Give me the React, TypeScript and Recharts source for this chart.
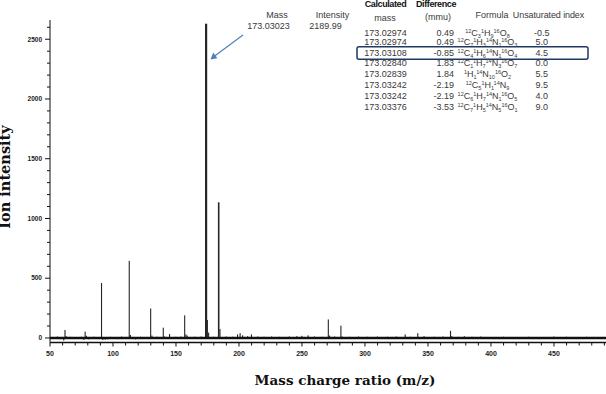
import React from "react";
import { BarChart, Bar, XAxis, YAxis, ReferenceLine } from "recharts";

// spectrum sticks: m/z and ion intensity
const peakMz = [
  56, 58, 61, 62, 63, 66, 70, 75, 77, 78, 79, 81, 85, 88, 91, 92, 94, 96, 98,
  104, 107, 110, 113, 114, 118, 122, 126, 130, 131, 135, 140, 141, 145, 150,
  154, 157, 158, 159, 165, 170, 174, 175, 176, 180, 184, 185, 190, 195, 199,
  201, 203, 207, 210, 215, 220, 226, 232, 240, 246, 250, 255, 260, 266, 271,
  272, 276, 281, 282, 288, 295, 302, 310, 318, 325, 332, 336, 342, 347, 355,
  362, 368, 369, 374, 379, 385, 392, 400, 410, 420, 430, 440, 450, 460, 468,
  476, 485,
];
const peakIntensity = [
  12, -10, -22, 67, 15, 10, -8, 10, -16, 53, 18, -12, 10, -10, 460, -18, -15,
  -12, 10, -10, 12, -8, 645, 25, -12, 10, 8, 247, 20, 10, 86, 12, 33, 10, 12,
  189, 30, 20, 10, 12, 2630, 150, 45, 10, 1135, 75, 12, 10, 30, 40, 22, 15, 30,
  12, 10, 12, 10, 12, 15, 18, 22, 12, 10, 155, 20, 12, 103, 12, 10, 12, 10, 12,
  10, 12, 30, 10, 40, 15, 10, 12, 60, 15, 10, 14, 10, 12, 8, 10, 8, 10, 8, 12,
  10, 8, 10, 8,
];

const yTicks = [
  0, 100, 200, 300, 400, 500, 600, 700, 800, 900, 1000, 1100, 1200, 1300, 1400,
  1500, 1600, 1700, 1800, 1900, 2000, 2100, 2200, 2300, 2400, 2500, 2600,
];
const xTicks = [
  50, 60, 70, 80, 90, 100, 110, 120, 130, 140, 150, 160, 170, 180, 190, 200,
  210, 220, 230, 240, 250, 260, 270, 280, 290, 300, 310, 320, 330, 340, 350,
  360, 370, 380, 390, 400, 410, 420, 430, 440, 450, 460, 470, 480, 490,
];

// candidate formula table
const calcMass = [
  "173.02974", "173.02974", "173.03108", "173.02840",
  "173.02839", "173.03242", "173.03242", "173.03376",
];
const diffMmu = ["0.49", "0.49", "-0.85", "1.83", "1.84", "-2.19", "-2.19", "-3.53"];
const formulas: [string, string, string][][] = [
  [["12", "C", "3"], ["1", "H", "9"], ["16", "O", "8"]],
  [["12", "C", "7"], ["1", "H", "3"], ["14", "N", "1"], ["16", "O", "3"]],
  [["12", "C", "4"], ["1", "H", "6"], ["14", "N", "1"], ["16", "O", "4"]],
  [["12", "C", "1"], ["1", "H", "7"], ["14", "N", "3"], ["16", "O", "7"]],
  [["1", "H", "1"], ["14", "N", "10"], ["16", "O", "2"]],
  [["12", "C", "5"], ["1", "H", "1"], ["14", "N", "9"]],
  [["12", "C", "6"], ["1", "H", "7"], ["14", "N", "1"], ["16", "O", "5"]],
  [["12", "C", "7"], ["1", "H", "5"], ["14", "N", "5"], ["16", "O", "1"]],
];
const unsatIndex = ["-0.5", "5.0", "4.5", "0.0", "5.5", "9.5", "4.0", "9.0"];
const rowY = [32.7, 41.7, 52.7, 63.3, 74, 85, 96, 106.7];

const data = peakMz.map((mz, i) => ({ mz, intensity: peakIntensity[i] }));

const tickFont = "'Liberation Sans', Arial, sans-serif";
const tableFont = "'Liberation Sans Narrow', 'Liberation Sans', Arial, sans-serif";

const YTick = (props: any) => {
  const { x, y, payload } = props;
  const major = payload.value % 500 === 0;
  return (
    <g>
      <line x1={x} x2={x - (major ? 5 : 3)} y1={y} y2={y} stroke="#111" strokeWidth={1} />
      {major && (
        <text x={x - 8} y={y} dy="0.35em" textAnchor="end" fontSize={6.5} fontWeight="bold" fontFamily={tickFont} fill="#222">
          {payload.value}
        </text>
      )}
    </g>
  );
};

const XTick = (props: any) => {
  const { x, y, payload } = props;
  const major = payload.value % 50 === 0;
  return (
    <g>
      <line x1={x} x2={x} y1={y} y2={y + (major ? 4 : 3)} stroke="#111" strokeWidth={1} />
      {major && (
        <text x={x} y={y + 13} textAnchor="middle" fontSize={7} fontWeight="bold" fontFamily={tickFont} fill="#222">
          {payload.value}
        </text>
      )}
    </g>
  );
};

const Stick = (props: any) => {
  const { x, y, width, height, value } = props;
  const v = Array.isArray(value) ? value[1] - value[0] : value;
  const w = Math.abs(v) > 2000 ? 2.2 : Math.abs(v) > 1000 ? 1.6 : 1.1;
  const top = height < 0 ? y + height : y;
  const h = Math.abs(height);
  return <rect x={x + width / 2 - w / 2} y={top} width={w} height={h} fill="#262626" />;
};

const cell = (key: string, x: number, y: number, text: React.ReactNode, extra: React.CSSProperties = {}) => (
  <div
    key={key}
    style={{
      position: "absolute",
      left: x,
      top: y,
      transform: "translate(-50%, -50%)",
      whiteSpace: "nowrap",
      fontFamily: tableFont,
      fontSize: 9,
      color: "#3a3a3a",
      lineHeight: "10px",
      ...extra,
    }}
  >
    {text}
  </div>
);

const Formula = ({ parts }: { parts: [string, string, string][] }) => (
  <span>
    {parts.map(([iso, el, n], i) => (
      <span key={i}>
        <span style={{ fontSize: 5.5, position: "relative", top: -3 }}>{iso}</span>
        {el}
        <span style={{ fontSize: 5.5, position: "relative", top: 2 }}>{n}</span>
      </span>
    ))}
  </span>
);

export default function App() {
  return (
    <div style={{ position: "absolute", left: 0, top: 0, width: 606, height: 394, background: "#fff", overflow: "hidden" }}>
      <BarChart width={606} height={394} data={data} margin={{ top: 20, right: 0, bottom: 0, left: 0 }}>
        <XAxis
          type="number"
          dataKey="mz"
          domain={[50, 491.3]}
          allowDataOverflow
          ticks={xTicks}
          interval={0}
          height={51.5}
          tickSize={0}
          tickMargin={0}
          tickLine={false}
          tick={<XTick />}
          axisLine={{ stroke: "#111", strokeWidth: 1.5 }}
        />
        <YAxis
          type="number"
          domain={[-38, 2661]}
          allowDataOverflow
          ticks={yTicks}
          interval={0}
          width={50}
          tickSize={0}
          tickMargin={0}
          tickLine={false}
          tick={<YTick />}
          axisLine={{ stroke: "#111", strokeWidth: 1 }}
        />
        <ReferenceLine y={0} stroke="#111" strokeWidth={2.5} />
        <Bar dataKey="intensity" barSize={1} shape={<Stick />} isAnimationActive={false} />
      </BarChart>

      {/* axis titles */}
      <div
        style={{
          position: "absolute",
          left: 4,
          top: 177,
          transform: "translate(-50%, -50%) rotate(-90deg)",
          whiteSpace: "nowrap",
          fontFamily: "'DejaVu Serif', serif",
          fontWeight: "bold",
          fontSize: 14.5,
          color: "#111",
        }}
      >
        Ion intensity
      </div>
      <div
        style={{
          position: "absolute",
          left: 345,
          top: 380,
          transform: "translate(-50%, -50%)",
          whiteSpace: "nowrap",
          fontFamily: "'DejaVu Serif', serif",
          fontWeight: "bold",
          fontSize: 13.5,
          color: "#111",
        }}
      >
        Mass charge ratio (m/z)
      </div>

      {/* arrow to the main peak and highlight box */}
      <svg width={606} height={394} style={{ position: "absolute", left: 0, top: 0, pointerEvents: "none" }}>
        <line x1={243} y1={35} x2={214} y2={56.5} stroke="#4f81bd" strokeWidth={1.2} />
        <polygon points="210.5,59.5 213.2,52.6 217.4,58.2" fill="#4f81bd" />
        <rect x={357} y={46.7} width={231} height={12.6} rx={2} fill="none" stroke="#1f3864" strokeWidth={1.5} />
      </svg>

      {/* table */}
      {cell("h1", 385.5, 4.3, "Calculated", { fontWeight: "bold", color: "#111", letterSpacing: -0.4 })}
      {cell("h2", 436, 4.3, "Difference", { fontWeight: "bold", color: "#111", letterSpacing: -0.4 })}
      {cell("h3", 277, 15, "Mass")}
      {cell("h4", 332.5, 15, "Intensity")}
      {cell("h5", 385, 18, "mass")}
      {cell("h6", 438, 17, "(mmu)")}
      {cell("h7", 492, 15, "Formula")}
      {cell("h8", 548.5, 15, "Unsaturated index", { letterSpacing: -0.1 })}
      {cell("v1", 268.5, 26, "173.03023")}
      {cell("v2", 325.5, 26, "2189.99")}
      {calcMass.map((m, i) => cell("m" + i, 385.5, rowY[i], m))}
      {diffMmu.map((d, i) => (
        <div
          key={"d" + i}
          style={{
            position: "absolute",
            right: 606 - 454,
            top: rowY[i],
            transform: "translateY(-50%)",
            fontFamily: tableFont,
            fontSize: 9,
            color: "#3a3a3a",
            lineHeight: "10px",
          }}
        >
          {d}
        </div>
      ))}
      {formulas.map((f, i) => cell("f" + i, 487.5, rowY[i], <Formula parts={f} />))}
      {unsatIndex.map((u, i) => cell("u" + i, 541.7, rowY[i], u))}
    </div>
  );
}
